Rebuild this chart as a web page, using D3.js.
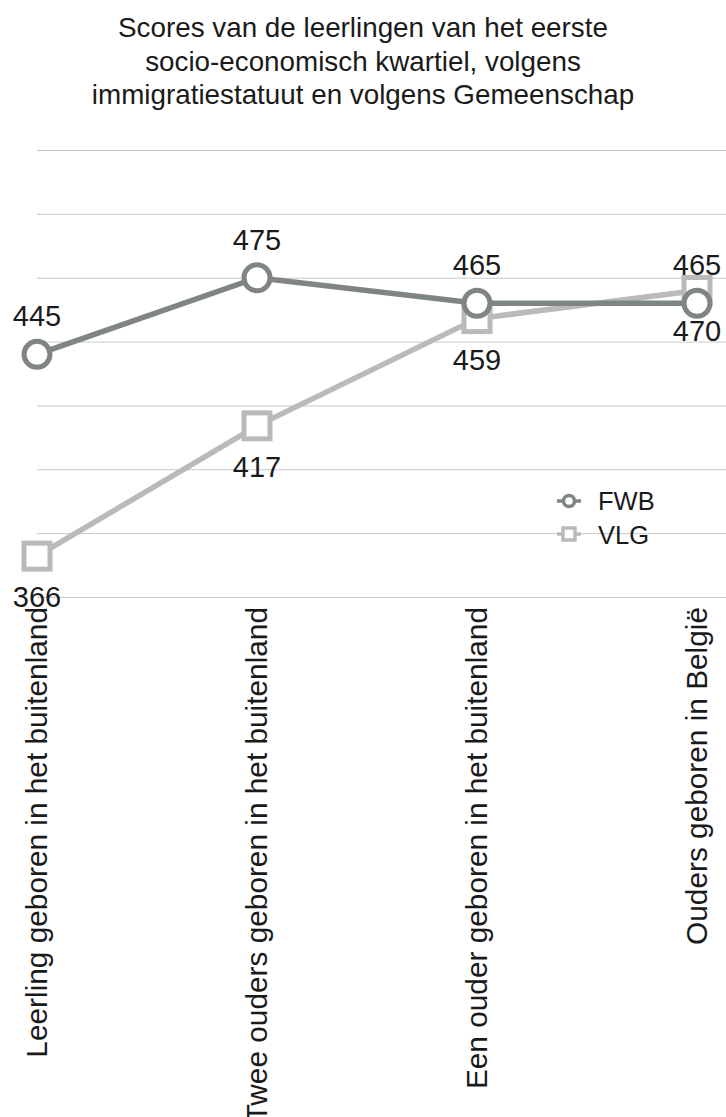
<!DOCTYPE html>
<html>
<head>
<meta charset="utf-8">
<script src="https://cdn.jsdelivr.net/npm/d3@7"></script>
<style>
  html, body { margin: 0; padding: 0; background: #fff; }
  svg text { font-family: "Liberation Sans", Arial, sans-serif; fill: #1a1a1a; }
</style>
</head>
<body>
<svg id="chart" width="726" height="1117"></svg>
<script>
// Categories (immigration status) and scores per community
const categories = [
  "Leerling geboren in het buitenland",
  "Twee ouders geboren in het buitenland",
  "Een ouder geboren in het buitenland",
  "Ouders geboren in België"
];
const fwbScores = [445, 475, 465, 465];
const vlgScores = [366, 417, 459, 470];
const gridTicks = [350, 375, 400, 425, 450, 475, 500, 525];
const titleLines = [
  "Scores van de leerlingen van het eerste",
  "socio-economisch kwartiel, volgens",
  "immigratiestatuut en volgens Gemeenschap"
];
const seriesNames = ["FWB", "VLG"];

const W = 726;
const svg = d3.select("#chart");

const x = d3.scalePoint().domain(categories).range([37, 697]);
const y = d3.scaleLinear().domain([350, 525]).range([597, 150]);

const colFWB = "#7f8682";
const colVLG = "#bababa";

// Title
svg.append("g").selectAll("text").data(titleLines).join("text")
  .attr("x", W / 2)
  .attr("y", (d, i) => 37 + i * 33.5)
  .attr("text-anchor", "middle")
  .style("font-size", "27.8px")
  .text(d => d);

// Horizontal gridlines
const yAxis = d3.axisLeft(y).tickValues(gridTicks).tickSize(-(W - 37)).tickFormat("");
const gy = svg.append("g").attr("transform", "translate(37,0)").call(yAxis);
gy.select(".domain").remove();
gy.selectAll(".tick line").attr("stroke", "#c8c8c8").attr("stroke-width", 1);

// Category labels, rotated
const xAxis = d3.axisBottom(x).tickSize(0).tickPadding(0);
const gx = svg.append("g").attr("transform", "translate(0,597)").call(xAxis);
gx.select(".domain").remove();
gx.selectAll(".tick text")
  .attr("transform", "translate(0,10) rotate(-90)")
  .attr("x", 0).attr("y", 0).attr("dy", "0.33em")
  .attr("text-anchor", "end")
  .style("font-size", "29.8px")
  .style("font-family", "'Liberation Sans', Arial, sans-serif")
  .attr("fill", "#1a1a1a");

const line = d3.line().x((d, i) => x(categories[i])).y(d => y(d));

// VLG series
svg.append("path").datum(vlgScores)
  .attr("d", line).attr("fill", "none")
  .attr("stroke", colVLG).attr("stroke-width", 5.5);
const sq = 26;
svg.append("g").selectAll("rect").data(vlgScores).join("rect")
  .attr("x", (d, i) => x(categories[i]) - sq / 2)
  .attr("y", d => y(d) - sq / 2)
  .attr("width", sq).attr("height", sq)
  .attr("fill", "#fff").attr("stroke", colVLG).attr("stroke-width", 5);

// FWB series
svg.append("path").datum(fwbScores)
  .attr("d", line).attr("fill", "none")
  .attr("stroke", colFWB).attr("stroke-width", 5.5);
svg.append("g").selectAll("circle").data(fwbScores).join("circle")
  .attr("cx", (d, i) => x(categories[i]))
  .attr("cy", d => y(d))
  .attr("r", 13)
  .attr("fill", "#fff").attr("stroke", colFWB).attr("stroke-width", 5);

// Value labels: FWB above, VLG below
svg.append("g").selectAll("text").data(fwbScores).join("text")
  .attr("x", (d, i) => x(categories[i]))
  .attr("y", d => y(d) - 28)
  .attr("text-anchor", "middle")
  .style("font-size", "29px")
  .text(d => d);
svg.append("g").selectAll("text").data(vlgScores).join("text")
  .attr("x", (d, i) => x(categories[i]))
  .attr("y", d => y(d) + 51)
  .attr("text-anchor", "middle")
  .style("font-size", "29px")
  .text(d => d);

// Legend
const legend = svg.append("g").attr("transform", "translate(569,501)");
legend.append("line").attr("x1", -12).attr("x2", 12).attr("y1", 0).attr("y2", 0)
  .attr("stroke", colFWB).attr("stroke-width", 3.5);
legend.append("circle").attr("r", 5.5).attr("fill", "#fff")
  .attr("stroke", colFWB).attr("stroke-width", 3.5);
legend.append("text").attr("x", 29).attr("y", 9).style("font-size", "25.5px").text(seriesNames[0]);
const l2 = legend.append("g").attr("transform", "translate(0,33)");
l2.append("line").attr("x1", -12).attr("x2", 12).attr("y1", 0).attr("y2", 0)
  .attr("stroke", colVLG).attr("stroke-width", 3.5);
l2.append("rect").attr("x", -6).attr("y", -6).attr("width", 12).attr("height", 12)
  .attr("fill", "#fff").attr("stroke", colVLG).attr("stroke-width", 3.5);
l2.append("text").attr("x", 29).attr("y", 9.5).style("font-size", "25.5px").text(seriesNames[1]);
</script>
</body>
</html>
